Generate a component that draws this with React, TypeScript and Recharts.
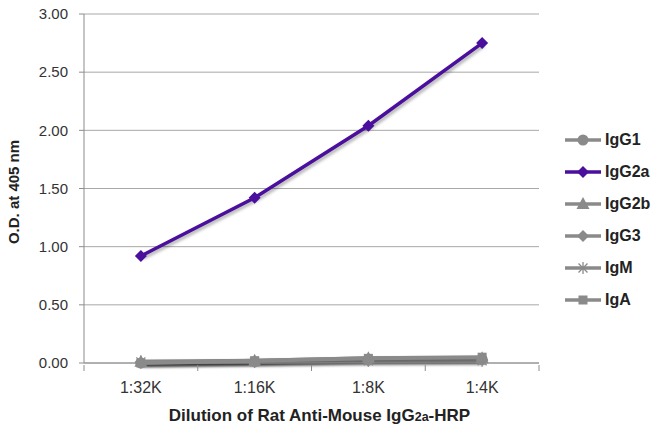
import { CartesianGrid, Line, LineChart, XAxis, YAxis } from "recharts";

const dilutions = ["1:32K", "1:16K", "1:8K", "1:4K"];

const igG1 = [0.0, 0.01, 0.03, 0.03];
const igG2a = [0.92, 1.42, 2.04, 2.75];
const igG2b = [0.01, 0.02, 0.04, 0.04];
const igG3 = [0.0, 0.01, 0.02, 0.03];
const igM = [0.01, 0.01, 0.02, 0.02];
const igA = [0.0, 0.02, 0.04, 0.05];

const yTicks = [0, 0.5, 1, 1.5, 2, 2.5, 3];

const GRAY = "#8a8a8a";
const PURPLE = "#4a0f9c";

type Shape = "circle" | "diamond" | "triangle" | "star" | "square";

const series: { key: string; name: string; values: number[]; color: string; shape: Shape }[] = [
  { key: "igG1", name: "IgG1", values: igG1, color: GRAY, shape: "circle" },
  { key: "igG2a", name: "IgG2a", values: igG2a, color: PURPLE, shape: "diamond" },
  { key: "igG2b", name: "IgG2b", values: igG2b, color: GRAY, shape: "triangle" },
  { key: "igG3", name: "IgG3", values: igG3, color: GRAY, shape: "diamond" },
  { key: "igM", name: "IgM", values: igM, color: GRAY, shape: "star" },
  { key: "igA", name: "IgA", values: igA, color: GRAY, shape: "square" },
];

// x runs 0..4, each category sits in the middle of its band
const data = dilutions.map((label, i) => {
  const row: Record<string, number | string> = { label, x: i + 0.5 };
  series.forEach((s) => {
    row[s.key] = s.values[i];
  });
  return row;
});

const xTicks = [0, 0.5, 1, 1.5, 2, 2.5, 3, 3.5, 4];

const FONT = "'Liberation Sans', Arial, sans-serif";

function Marker({ cx, cy, shape, color }: { cx: number; cy: number; shape: Shape; color: string }) {
  if (shape === "circle") return <circle cx={cx} cy={cy} r={5.5} fill={color} />;
  if (shape === "diamond")
    return (
      <polygon
        points={`${cx},${cy - 6} ${cx + 6},${cy} ${cx},${cy + 6} ${cx - 6},${cy}`}
        fill={color}
      />
    );
  if (shape === "triangle")
    return (
      <polygon
        points={`${cx},${cy - 7} ${cx + 6.5},${cy + 5} ${cx - 6.5},${cy + 5}`}
        fill={color}
      />
    );
  if (shape === "square")
    return <rect x={cx - 4.5} y={cy - 4.5} width={9} height={9} fill={color} />;
  return (
    <g stroke={color} strokeWidth={1.3}>
      <line x1={cx - 6} y1={cy} x2={cx + 6} y2={cy} />
      <line x1={cx} y1={cy - 6} x2={cx} y2={cy + 6} />
      <line x1={cx - 4.5} y1={cy - 4.5} x2={cx + 4.5} y2={cy + 4.5} />
      <line x1={cx - 4.5} y1={cy + 4.5} x2={cx + 4.5} y2={cy - 4.5} />
    </g>
  );
}

function XTick(props: any) {
  const { x, y, payload } = props;
  const v = payload.value as number;
  if (Number.isInteger(v)) {
    return <line x1={x} y1={y} x2={x} y2={y + 6} stroke="#8c8c8c" strokeWidth={1} />;
  }
  return (
    <text x={x} y={y + 28} textAnchor="middle" fill="#333" fontSize={16} fontFamily={FONT}>
      {dilutions[Math.floor(v)]}
    </text>
  );
}

function XLabel(props: any) {
  const { viewBox } = props;
  const cx = viewBox.x + viewBox.width / 2 + 8;
  return (
    <text x={cx} y={viewBox.y + 58} textAnchor="middle" fill="#222" fontSize={17} fontWeight="bold" fontFamily={FONT}>
      Dilution of Rat Anti-Mouse IgG
      <tspan fontSize={12.5}>2a</tspan>
      -HRP
    </text>
  );
}

function YLabel() {
  return (
    <text
      x={0}
      y={0}
      transform="translate(19, 192) rotate(-90)"
      textAnchor="middle"
      fill="#222"
      fontSize={15}
      fontWeight="bold"
      fontFamily={FONT}
    >
      O.D. at 405 nm
    </text>
  );
}

function Legend() {
  return (
    <div style={{ position: "absolute", left: 563, top: 124, fontFamily: FONT }}>
      {series.map((s) => (
        <div key={s.key} style={{ display: "flex", alignItems: "center", height: 32 }}>
          <svg width={40} height={16}>
            <line x1={2} y1={8} x2={38} y2={8} stroke={s.color} strokeWidth={3.5} />
            <Marker cx={20} cy={8} shape={s.shape} color={s.color} />
          </svg>
          <span style={{ fontSize: 16, fontWeight: "bold", color: "#222", marginLeft: 2 }}>{s.name}</span>
        </div>
      ))}
    </div>
  );
}

export default function App() {
  return (
    <div style={{ position: "absolute", left: 0, top: 0, width: 653, height: 432, background: "#fff" }}>
      <style>{`.recharts-line-curve { filter: drop-shadow(2px 2px 1.5px rgba(0,0,0,0.3)); }`}</style>
      <LineChart width={653} height={432} data={data} margin={{ top: 14, right: 114, bottom: 0, left: 0 }}>
        <CartesianGrid vertical={false} stroke="#a8a8a8" />
        <XAxis
          dataKey="x"
          type="number"
          domain={[0, 4]}
          ticks={xTicks}
          interval={0}
          tickLine={false}
          tickSize={0}
          tick={<XTick />}
          axisLine={{ stroke: "#8c8c8c" }}
          height={69}
          label={<XLabel />}
        />
        <YAxis
          domain={[0, 3]}
          ticks={yTicks}
          interval={0}
          width={84}
          tickSize={5}
          tickMargin={11}
          tickLine={{ stroke: "#8c8c8c" }}
          axisLine={{ stroke: "#8c8c8c" }}
          tickFormatter={(v: number) => v.toFixed(2)}
          tick={{ fill: "#333", fontSize: 15, fontFamily: FONT }}
          label={<YLabel />}
        />
        {series.map((s) => (
          <Line
            key={s.key}
            dataKey={s.key}
            name={s.name}
            stroke={s.color}
            strokeWidth={s.color === PURPLE ? 3.5 : 4}
            isAnimationActive={false}
            dot={(p: any) => <Marker key={`${s.key}-${p.index}`} cx={p.cx} cy={p.cy} shape={s.shape} color={s.color} />}
            activeDot={false}
          />
        ))}
      </LineChart>
      <Legend />
    </div>
  );
}
